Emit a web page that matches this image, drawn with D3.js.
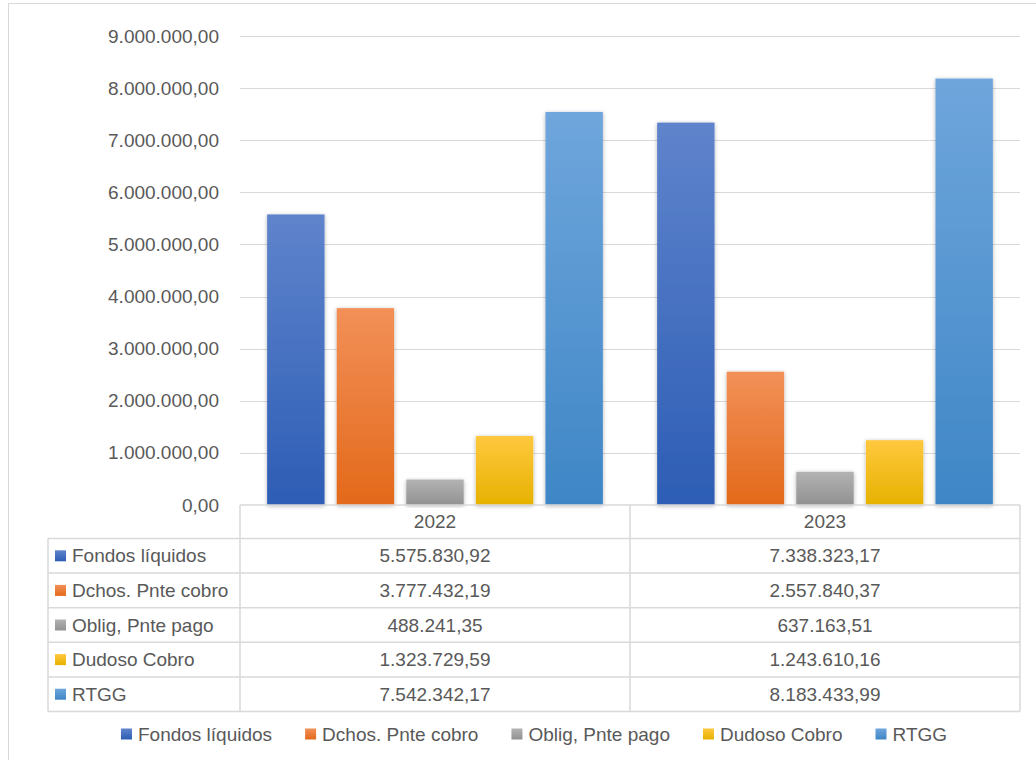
<!DOCTYPE html>
<html>
<head>
<meta charset="utf-8">
<script src="https://cdn.jsdelivr.net/npm/d3@7"></script>
<style>
  body { margin: 0; background: #fff; }
  text { font-family: "Liberation Sans", "DejaVu Sans", sans-serif; fill: #595959; }
</style>
</head>
<body>
<div id="chart"></div>
<script>
// Categories (years)
var years = ["2022", "2023"];

// Series names
var seriesNames = ["Fondos líquidos", "Dchos. Pnte cobro", "Oblig, Pnte pago", "Dudoso Cobro", "RTGG"];

// Values per series, one per year
var fondos = [5575830.92, 7338323.17];
var dchos = [3777432.19, 2557840.37];
var oblig = [488241.35, 637163.51];
var dudoso = [1323729.59, 1243610.16];
var rtgg = [7542342.17, 8183433.99];

// Table labels as shown
var fondosLabels = ["5.575.830,92", "7.338.323,17"];
var dchosLabels = ["3.777.432,19", "2.557.840,37"];
var obligLabels = ["488.241,35", "637.163,51"];
var dudosoLabels = ["1.323.729,59", "1.243.610,16"];
var rtggLabels = ["7.542.342,17", "8.183.433,99"];

// Y axis ticks
var yTicks = [0, 1000000, 2000000, 3000000, 4000000, 5000000, 6000000, 7000000, 8000000, 9000000];

var seriesValues = [fondos, dchos, oblig, dudoso, rtgg];
var seriesLabels = [fondosLabels, dchosLabels, obligLabels, dudosoLabels, rtggLabels];

// Gradient colours top -> bottom
var topColors = ["#5f84cc", "#f29058", "#b3b3b3", "#ffc83e", "#6fa6dc"];
var botColors = ["#2d5db5", "#e3691a", "#919191", "#e6b200", "#3e86c6"];

var width = 1036, height = 760;
var margin = {left: 240, right: 16, top: 36, plotBottom: 505};
var fontSize = "19px";

var svg = d3.select("#chart").append("svg")
    .attr("width", width)
    .attr("height", height);

// outer chart border
svg.append("rect")
    .attr("x", 8.5).attr("y", 3.5)
    .attr("width", 1040).attr("height", 800)
    .attr("fill", "#fff")
    .attr("stroke", "#d9d9d9");

var defs = svg.append("defs");
seriesNames.forEach(function(s, i) {
    var g = defs.append("linearGradient")
        .attr("id", "grad" + i)
        .attr("x1", 0).attr("y1", 0).attr("x2", 0).attr("y2", 1);
    g.append("stop").attr("offset", "0%").attr("stop-color", topColors[i]);
    g.append("stop").attr("offset", "100%").attr("stop-color", botColors[i]);
});
var shadow = defs.append("filter").attr("id", "shadow")
    .attr("x", "-20%").attr("y", "-10%").attr("width", "140%").attr("height", "120%");
shadow.append("feDropShadow")
    .attr("dx", 0).attr("dy", 1).attr("stdDeviation", 2)
    .attr("flood-color", "#000").attr("flood-opacity", 0.3);

var plotRight = 1020;

var xScale = d3.scaleBand()
    .domain(years)
    .range([margin.left, plotRight]);

var xInner = d3.scaleBand()
    .domain(d3.range(seriesNames.length))
    .range([0, xScale.bandwidth()])
    .paddingInner(0.175)
    .paddingOuter(0.39);

var yScale = d3.scaleLinear()
    .domain([0, 9000000])
    .range([margin.plotBottom, margin.top]);

var fmt = d3.formatLocale({decimal: ",", thousands: ".", grouping: [3], currency: ["", ""]}).format(",.2f");

// gridlines
svg.append("g").selectAll("line")
    .data(yTicks.slice(1))
    .enter().append("line")
    .attr("x1", margin.left).attr("x2", plotRight)
    .attr("y1", function(d) { return Math.round(yScale(d)) + 0.5; })
    .attr("y2", function(d) { return Math.round(yScale(d)) + 0.5; })
    .attr("stroke", "#d9d9d9")
    .attr("stroke-width", 1.2);

// y axis labels
var yAxis = d3.axisLeft(yScale)
    .tickValues(yTicks)
    .tickFormat(fmt)
    .tickSize(0)
    .tickPadding(21);
var yg = svg.append("g")
    .attr("transform", "translate(" + margin.left + ",0)")
    .call(yAxis);
yg.select(".domain").remove();
yg.selectAll("text")
    .attr("font-size", fontSize)
    .attr("font-family", "Liberation Sans")
    .attr("fill", "#595959");

// bars
var groups = svg.append("g").selectAll("g")
    .data(years)
    .enter().append("g")
    .attr("transform", function(d) { return "translate(" + xScale(d) + ",0)"; });

groups.selectAll("rect")
    .data(function(d, yi) { return seriesValues.map(function(v, si) { return {s: si, v: v[yi]}; }); })
    .enter().append("rect")
    .attr("x", function(d) { return xInner(d.s); })
    .attr("width", xInner.bandwidth())
    .attr("y", function(d) { return yScale(d.v); })
    .attr("height", function(d) { return yScale(0) - yScale(d.v); })
    .attr("fill", function(d) { return "url(#grad" + d.s + ")"; })
    .attr("filter", "url(#shadow)");

// data table
var tableLeft = 48, rowH = 34.6;
var headerTop = margin.plotBottom;
var headerBottom = 538.5;
var lineColor = "#d9d9d9";
var tbl = svg.append("g");

tbl.append("line").attr("x1", margin.left).attr("x2", plotRight)
    .attr("y1", headerTop).attr("y2", headerTop)
    .attr("stroke", lineColor).attr("stroke-width", 1.5);
var rowLines = d3.range(seriesNames.length + 1).map(function(i) { return headerBottom + i * rowH; });
tbl.selectAll(".hline").data(rowLines).enter().append("line")
    .attr("x1", tableLeft).attr("x2", plotRight)
    .attr("y1", function(d) { return d; }).attr("y2", function(d) { return d; })
    .attr("stroke", lineColor).attr("stroke-width", 1.5);
var lastY = rowLines[rowLines.length - 1];
tbl.append("line").attr("x1", tableLeft).attr("x2", tableLeft)
    .attr("y1", headerBottom).attr("y2", lastY)
    .attr("stroke", lineColor).attr("stroke-width", 1.5);
[margin.left, xScale("2023"), plotRight].forEach(function(x) {
    tbl.append("line").attr("x1", x).attr("x2", x)
        .attr("y1", headerTop).attr("y2", lastY)
        .attr("stroke", lineColor).attr("stroke-width", 1.5);
});

// header labels
tbl.selectAll(".hdr").data(years).enter().append("text")
    .attr("x", function(d) { return xScale(d) + xScale.bandwidth() / 2; })
    .attr("y", (headerTop + headerBottom) / 2 + 6.5)
    .attr("text-anchor", "middle")
    .attr("font-size", fontSize)
    .text(function(d) { return d; });

// rows
seriesNames.forEach(function(name, i) {
    var cy = headerBottom + i * rowH + rowH / 2;
    tbl.append("rect")
        .attr("x", 55).attr("y", cy - 5.5)
        .attr("width", 11).attr("height", 11)
        .attr("fill", "url(#grad" + i + ")");
    tbl.append("text")
        .attr("x", 72).attr("y", cy + 6.5)
        .attr("font-size", fontSize)
        .text(name);
    years.forEach(function(yr, yi) {
        tbl.append("text")
            .attr("x", xScale(yr) + xScale.bandwidth() / 2)
            .attr("y", cy + 6.5)
            .attr("text-anchor", "middle")
            .attr("font-size", fontSize)
            .text(seriesLabels[i][yi]);
    });
});

// legend
var legend = svg.append("g");
var items = legend.selectAll("g").data(seriesNames).enter().append("g");
items.append("rect")
    .attr("width", 11).attr("height", 11)
    .attr("y", -5.5)
    .attr("fill", function(d, i) { return "url(#grad" + i + ")"; });
items.append("text")
    .attr("x", 17).attr("y", 6.5)
    .attr("font-size", fontSize)
    .text(function(d) { return d; });
var widths = [];
items.each(function() { widths.push(this.getBBox().width); });
var spacing = 33;
var total = d3.sum(widths) + spacing * (widths.length - 1);
var lx = 534 - total / 2;
items.attr("transform", function(d, i) {
    var x = lx;
    lx += widths[i] + spacing;
    return "translate(" + x + ",734)";
});
</script>
</body>
</html>
